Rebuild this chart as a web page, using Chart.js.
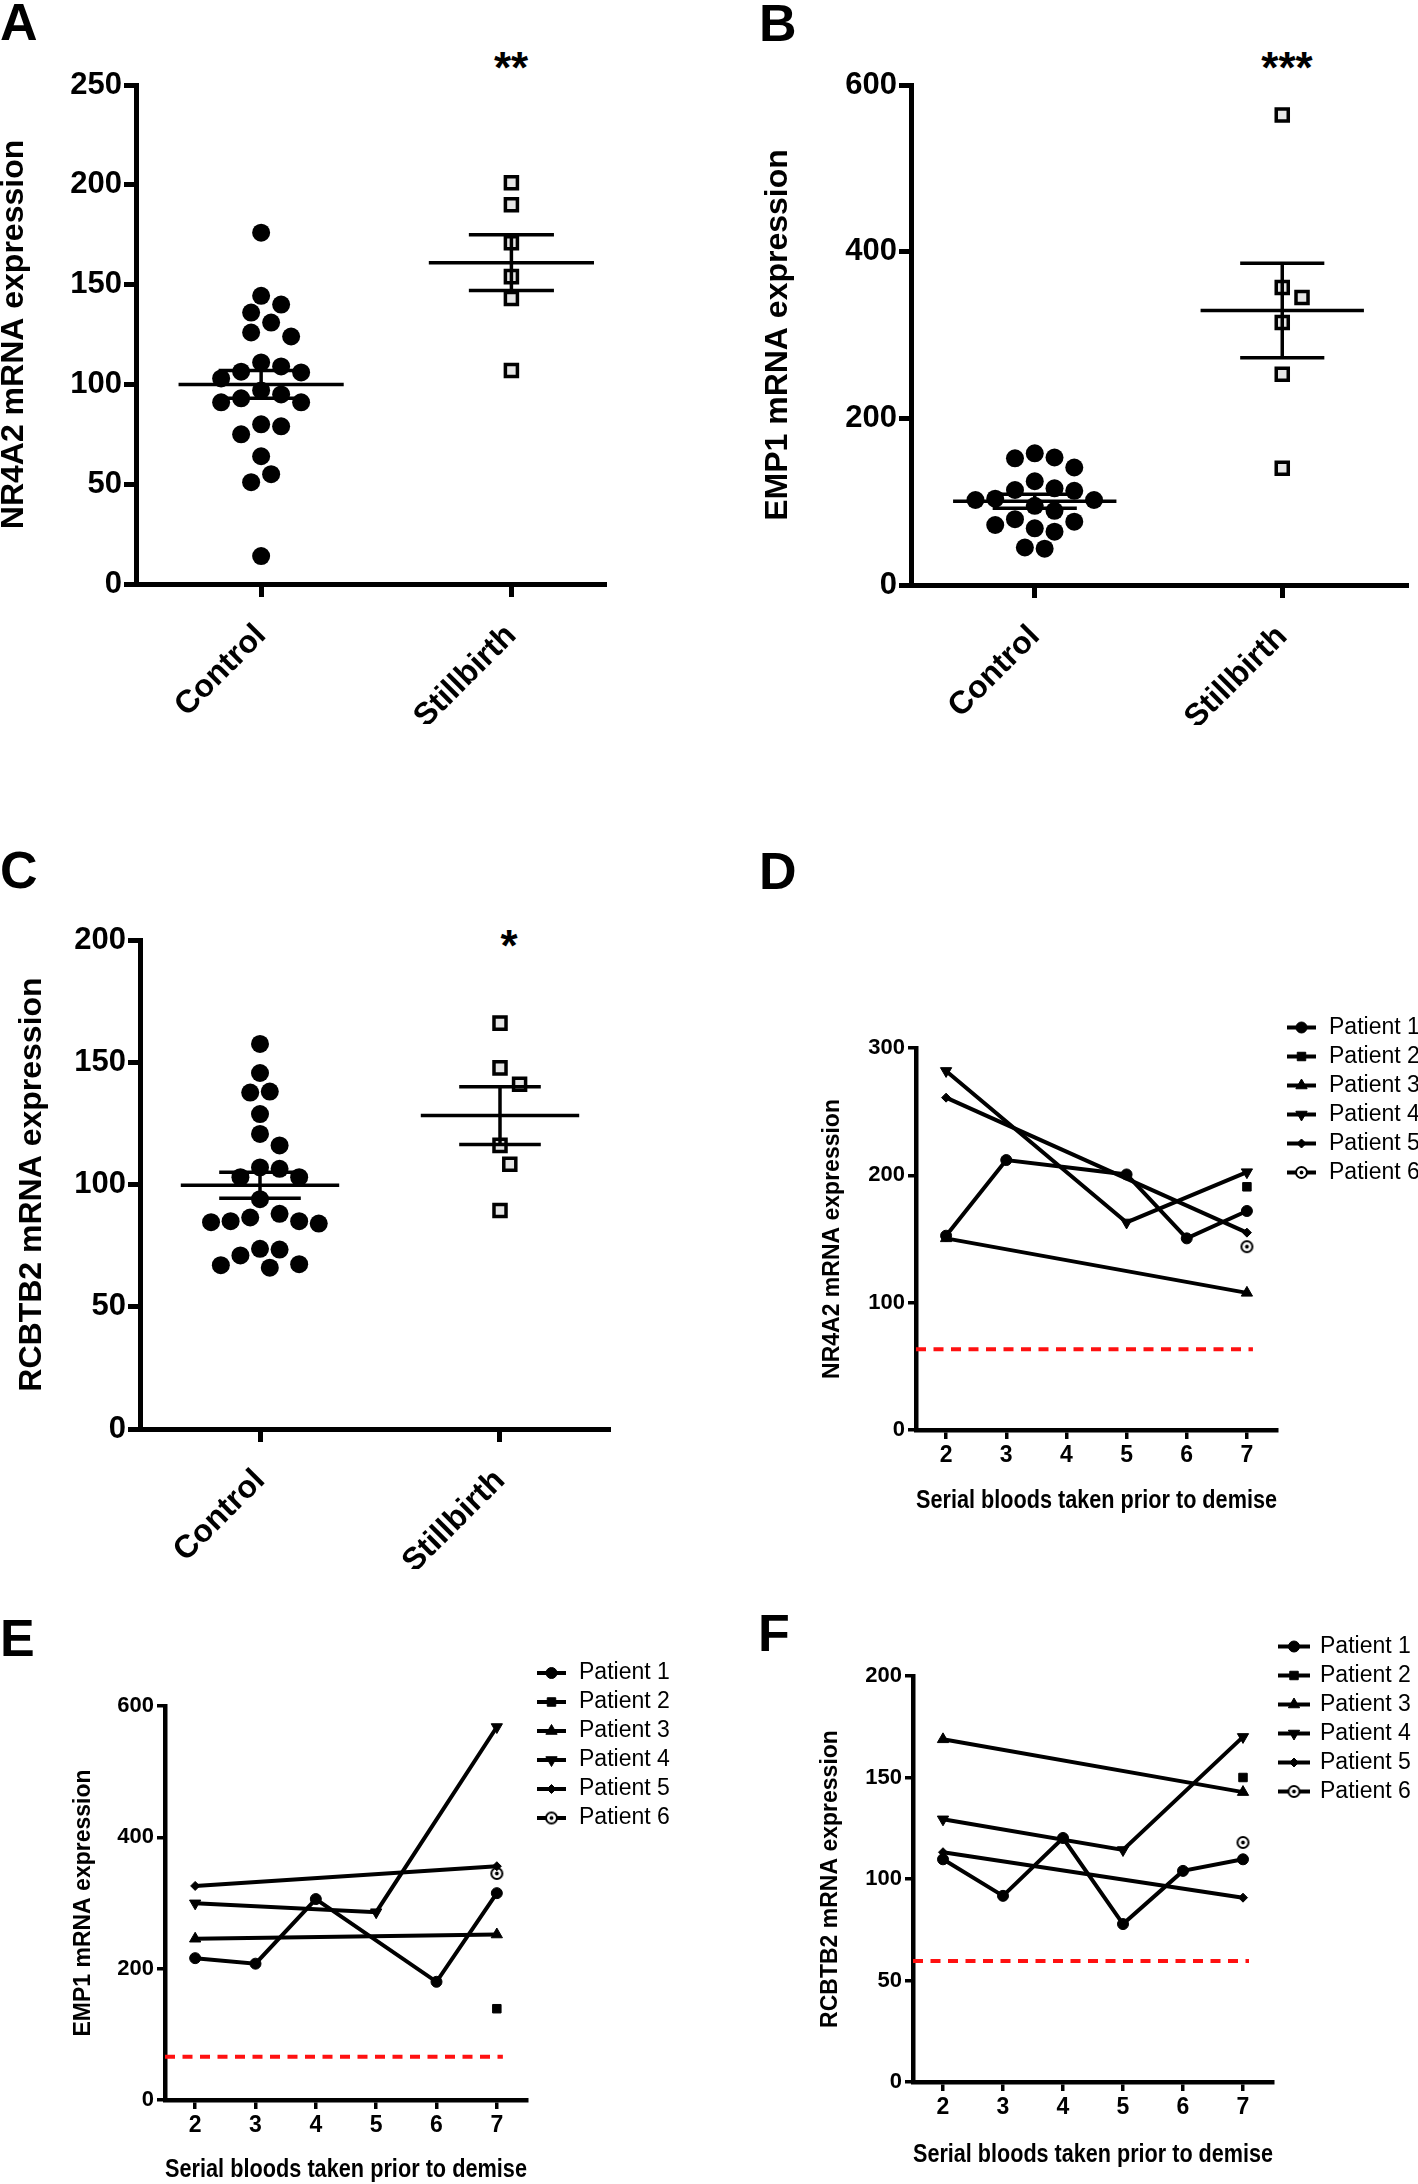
<!DOCTYPE html>
<html>
<head>
<meta charset="utf-8">
<script src="https://cdn.jsdelivr.net/npm/chart.js@4.4.1/dist/chart.umd.min.js"></script>
<style>
  body { margin: 0; background: #fff; width: 1418px; height: 2184px; position: relative; overflow: hidden;
         font-family: 'Liberation Sans', Arial, sans-serif; color: #000; }
  .panel { position: absolute; }
  .tag { position: absolute; font-weight: bold; font-size: 52px; line-height: 1; }
  .star { position: absolute; font-weight: bold; font-size: 44px; line-height: 1; transform: translateX(-50%); }
</style>
</head>
<body>
<div class="tag" style="left:0px;top:-4px">A</div>
<div class="tag" style="left:759px;top:-3px">B</div>
<div class="tag" style="left:0px;top:844px">C</div>
<div class="tag" style="left:759px;top:845px">D</div>
<div class="tag" style="left:0px;top:1612px">E</div>
<div class="tag" style="left:758px;top:1607px">F</div>
<div class="star" style="left:511px;top:46px">**</div>
<div class="star" style="left:1287px;top:46px">***</div>
<div class="star" style="left:509px;top:924px">*</div>
<script>
// scatter panels (A-C)
const groups = ['Control', 'Stillbirth'];

const nr4a2Control = [176, 144.4, 140, 136, 131, 126, 124, 111, 109, 106.4, 106, 103, 97, 95, 93, 91, 91, 80, 79, 75, 64, 55, 51, 14];
const nr4a2Stillbirth = [201, 190, 171, 154, 143, 107];
const nr4a2Mean = [100, 161];
const nr4a2Sem = [7, 14];

const emp1Control = [158, 152, 153, 141, 124.5, 114, 116, 113, 103.6, 102, 102, 95, 89, 79, 72, 68, 76, 64, 43.6, 45];
const emp1Stillbirth = [564, 357, 345, 315, 253, 140];
const emp1Mean = [100.5, 329.5];
const emp1Sem = [8.3, 56.7];

const rcbtb2Control = [157.5, 145.6, 137.6, 138, 128.8, 120.7, 116, 107, 106.4, 103, 103, 94, 88, 85, 84.6, 84, 85, 86.5, 73.4, 73.7, 71, 67.4, 66, 67];
const rcbtb2Stillbirth = [166, 147.7, 141, 116, 108.3, 89.4];
const rcbtb2Mean = [99.7, 128.2];
const rcbtb2Sem = [5.3, 11.8];

// serial bloods panels (D-F)
const bloods = [2, 3, 4, 5, 6, 7];
const patients = ['Patient 1', 'Patient 2', 'Patient 3', 'Patient 4', 'Patient 5', 'Patient 6'];

const nr4a2Serial = [
  [152.6, 212, null, 200.7, 150.5, 172],
  [null, null, null, null, null, 191],
  [150.5, null, null, null, null, 107.7],
  [282, null, null, 163, null, 202.5],
  [261, null, null, null, null, 155],
  [null, null, null, null, null, 144]
];
const nr4a2Cutoff = 63.5;

const emp1Serial = [
  [216, 207.6, 306, null, 180, 315],
  [null, null, null, null, null, 139],
  [245.6, null, null, null, null, 252],
  [299.5, null, null, 286, null, 568],
  [326, null, null, null, null, 356],
  [null, null, null, null, null, 345]
];
const emp1Cutoff = 66;

const rcbtb2Serial = [
  [109.7, 91.7, 120.2, 77.8, 104, 109.7],
  [null, null, null, null, null, 150],
  [168.8, null, null, null, null, 142.8],
  [129.4, null, null, 114.3, null, 170],
  [113.2, null, null, null, null, 90.8],
  [null, null, null, null, null, 118]
];
const rcbtb2Cutoff = 59.6;
const cutoffSpan = [1.5, 7.1];

Chart.defaults.font.family = "'Liberation Sans', Arial, sans-serif";
Chart.defaults.color = '#000';

function mount(lay) {
  const d = document.createElement('div');
  d.className = 'panel';
  d.style.left = lay.box[0] + 'px';
  d.style.top = lay.box[1] + 'px';
  d.style.width = lay.box[2] + 'px';
  d.style.height = lay.box[3] + 'px';
  const c = document.createElement('canvas');
  d.appendChild(c);
  document.body.appendChild(d);
  return c;
}

function frame(lay, halfY, halfX) {
  const [l, t, w, h] = lay.box;
  const [al, at, ar, ab] = lay.area;
  const padL = lay.yTitleX - l - halfY;
  const xH = lay.xTitleY ? lay.xTitleY + halfX - ab : 140;
  return {
    padding: { left: padL, top: at - t, right: l + w - ar, bottom: t + h - ab - xH },
    yW: al - l - padL,
    xH
  };
}

function fixed(prop, v) {
  return s => {
    s[prop] = v;
    s.paddingLeft = s.paddingRight = s.paddingTop = s.paddingBottom = 0;
  };
}

// simple beeswarm: place points from the top down at the nearest free offset
function swarm(values, ppuX, ppuY, gap) {
  const order = values.map((v, i) => i).sort((a, b) => values[b] - values[a]);
  const placed = [];
  const offs = values.map(() => 0);
  const cands = [0];
  for (let k = 1; k <= 14; k++) cands.push(k * gap / 2, -k * gap / 2);
  for (const i of order) {
    const py = values[i] * ppuY;
    for (const dx of cands) {
      if (placed.every(p => (p.x - dx) ** 2 + (p.y - py) ** 2 >= gap * gap * 0.95)) {
        offs[i] = dx / ppuX;
        placed.push({ x: dx, y: py });
        break;
      }
    }
  }
  return offs;
}

function seg(a, b) {
  return {
    data: [{ x: a[0], y: a[1] }, { x: b[0], y: b[1] }],
    showLine: true, borderColor: '#000', borderWidth: 3.5, pointRadius: 0
  };
}

function dotPanel(lay, control, stillbirth, mean, sem, yTitle) {
  const fr = frame(lay, 14.4, 0);
  const ppuX = (lay.area[2] - lay.area[0]) / (lay.xMax - 0.5);
  const ppuY = (lay.area[3] - lay.area[1]) / lay.yMax;
  const offC = swarm(control, ppuX, ppuY, 20);
  const offS = swarm(stillbirth, ppuX, ppuY, 20);

  const datasets = [];
  mean.forEach((m, i) => {
    const c = i + 1, s = sem[i];
    datasets.push(seg([c - 0.33, m], [c + 0.33, m]));
    datasets.push(seg([c - 0.17, m + s], [c + 0.17, m + s]));
    datasets.push(seg([c - 0.17, m - s], [c + 0.17, m - s]));
    datasets.push(seg([c, m - s], [c, m + s]));
  });
  datasets.push({
    data: stillbirth.map((v, i) => ({ x: 2 + offS[i], y: v })),
    pointStyle: 'rect', pointRadius: 8.5, pointBackgroundColor: '#e6e6e6',
    pointBorderColor: '#000', pointBorderWidth: 3.5
  });
  datasets.push({
    data: control.map((v, i) => ({ x: 1 + offC[i], y: v })),
    pointStyle: 'circle', pointRadius: 9, pointBackgroundColor: '#000',
    pointBorderColor: '#000', pointBorderWidth: 0
  });

  new Chart(mount(lay), {
    type: 'scatter',
    data: { datasets },
    options: {
      animation: false,
      responsive: true,
      maintainAspectRatio: false,
      layout: { padding: fr.padding },
      plugins: { legend: { display: false }, tooltip: { enabled: false } },
      scales: {
        x: {
          type: 'linear', min: 0.5, max: lay.xMax,
          afterBuildTicks: s => { s.ticks = groups.map((g, i) => ({ value: i + 1 })); },
          afterFit: fixed('height', fr.xH),
          ticks: {
            callback: v => groups[v - 1], autoSkip: false, minRotation: 45, maxRotation: 45,
            padding: 20, color: '#000', font: { size: 32, weight: 'bold' }
          },
          grid: { drawOnChartArea: false, tickLength: 13, lineWidth: 5, color: '#000' },
          border: { width: 5, color: '#000' }
        },
        y: {
          min: 0, max: lay.yMax,
          afterFit: fixed('width', fr.yW),
          ticks: { stepSize: lay.yStep, padding: 2, color: '#000', font: { size: 31, weight: 'bold' } },
          grid: { drawOnChartArea: false, tickLength: 12, lineWidth: 5, color: '#000' },
          border: { width: 5, color: '#000' },
          title: { display: true, text: yTitle, padding: 0, color: '#000',
                   font: { size: 32, weight: 'bold', lineHeight: 0.9 } }
        }
      }
    }
  });
}

function ringDot(r) {
  const c = document.createElement('canvas');
  const s = Math.ceil(r * 2 + 4);
  c.width = c.height = s;
  const g = c.getContext('2d');
  g.lineWidth = 2;
  g.strokeStyle = '#000';
  g.fillStyle = '#fff';
  g.beginPath(); g.arc(s / 2, s / 2, r, 0, Math.PI * 2); g.fill(); g.stroke();
  g.fillStyle = '#000';
  g.beginPath(); g.arc(s / 2, s / 2, r * 0.35, 0, Math.PI * 2); g.fill();
  return c;
}

const markers = [
  { pointStyle: 'circle', pointRadius: 5.5 },
  { pointStyle: 'rect', pointRadius: 6 },
  { pointStyle: 'triangle', pointRadius: 6.5 },
  { pointStyle: 'triangle', pointRadius: 6.5, pointRotation: 180 },
  { pointStyle: 'rectRot', pointRadius: 4.5 },
  { pointStyle: ringDot(5.5), pointRadius: 6 }
];

const patientLegend = {
  id: 'patientLegend',
  afterDraw(chart, args, opts) {
    if (opts.y === undefined) return;
    const ctx = chart.ctx;
    ctx.save();
    chart.data.datasets.forEach((ds, i) => {
      if (!ds.label) return;
      const y = opts.y + i * opts.gap;
      ctx.strokeStyle = '#000';
      ctx.lineWidth = 4;
      ctx.beginPath(); ctx.moveTo(opts.x0, y); ctx.lineTo(opts.x1, y); ctx.stroke();
      ctx.fillStyle = '#000';
      ctx.lineWidth = 1;
      Chart.helpers.drawPoint(ctx, {
        pointStyle: ds.pointStyle, rotation: ds.pointRotation || 0,
        radius: ds.pointRadius, borderWidth: 1
      }, (opts.x0 + opts.x1) / 2, y);
      ctx.fillStyle = '#000';
      ctx.font = '23px "Liberation Sans", Arial, sans-serif';
      ctx.textBaseline = 'middle';
      ctx.textAlign = 'left';
      ctx.fillText(ds.label, opts.textX, y);
    });
    ctx.restore();
  }
};

function linePanel(lay, serial, cutoff, yTitle) {
  const fr = frame(lay, 11.5, 12.5);
  const datasets = serial.map((row, p) => Object.assign({
    label: patients[p],
    data: row.map((v, i) => ({ x: bloods[i], y: v })).filter(d => d.y !== null),
    showLine: true, borderColor: '#000', borderWidth: 4,
    pointBackgroundColor: '#000', pointBorderColor: '#000', pointBorderWidth: 1
  }, markers[p]));
  datasets.push({
    data: cutoffSpan.map(x => ({ x, y: cutoff })),
    showLine: true, borderColor: '#ff1111', borderWidth: 4, borderDash: [10, 7.5], pointRadius: 0
  });

  new Chart(mount(lay), {
    type: 'scatter',
    data: { datasets },
    plugins: [patientLegend],
    options: {
      animation: false,
      responsive: true,
      maintainAspectRatio: false,
      layout: { padding: fr.padding },
      plugins: { legend: { display: false }, tooltip: { enabled: false }, patientLegend: lay.legend },
      scales: {
        x: {
          type: 'linear', min: 1.5, max: 7.5,
          afterBuildTicks: s => { s.ticks = bloods.map(v => ({ value: v })); },
          afterFit: fixed('height', fr.xH),
          ticks: { autoSkip: false, maxRotation: 0, padding: 3, color: '#000', font: { size: 23, weight: 'bold' } },
          grid: { drawOnChartArea: false, tickLength: 9, lineWidth: 3.5, color: '#000' },
          border: { width: 4.5, color: '#000' },
          title: { display: true, text: 'Serial bloods taken prior to demise', padding: 0, color: '#000',
                   font: { size: 25, weight: 'bold', lineHeight: 1 } }
        },
        y: {
          min: 0, max: lay.yMax,
          afterFit: fixed('width', fr.yW),
          ticks: { stepSize: lay.yStep, padding: 3, color: '#000', font: { size: 22, weight: 'bold' } },
          grid: { drawOnChartArea: false, tickLength: 8, lineWidth: 3.5, color: '#000' },
          border: { width: 4.5, color: '#000' },
          title: { display: true, text: yTitle, padding: 0, color: '#000',
                   font: { size: 23, weight: 'bold', lineHeight: 1 } }
        }
      }
    }
  });
}

dotPanel({ box: [0, 0, 620, 745], area: [136, 85, 604, 584], yTitleX: 14, xMax: 2.37, yMax: 250, yStep: 50 },
  nr4a2Control, nr4a2Stillbirth, nr4a2Mean, nr4a2Sem, 'NR4A2 mRNA expression');
dotPanel({ box: [750, 0, 668, 745], area: [911, 85, 1412, 585], yTitleX: 778, xMax: 2.5, yMax: 600, yStep: 200 },
  emp1Control, emp1Stillbirth, emp1Mean, emp1Sem, 'EMP1 mRNA expression');
dotPanel({ box: [0, 835, 620, 745], area: [140, 940, 618, 1429], yTitleX: 32, xMax: 2.45, yMax: 200, yStep: 50 },
  rcbtb2Control, rcbtb2Stillbirth, rcbtb2Mean, rcbtb2Sem, 'RCBTB2 mRNA expression');

linePanel({ box: [750, 835, 668, 690], area: [916, 1048, 1277, 1430], yTitleX: 833, xTitleY: 1501, yMax: 300, yStep: 100,
            legend: { x0: 537, x1: 566, textX: 579, y: 192.5, gap: 29 } },
  nr4a2Serial, nr4a2Cutoff, 'NR4A2 mRNA expression');
linePanel({ box: [0, 1600, 700, 584], area: [165, 1706, 527, 2100], yTitleX: 84, xTitleY: 2170, yMax: 600, yStep: 200,
            legend: { x0: 537, x1: 566, textX: 579, y: 73, gap: 29 } },
  emp1Serial, emp1Cutoff, 'EMP1 mRNA expression');
linePanel({ box: [750, 1600, 668, 584], area: [913, 1676, 1273, 2082], yTitleX: 831, xTitleY: 2155, yMax: 200, yStep: 50,
            legend: { x0: 528, x1: 560, textX: 570, y: 46.5, gap: 29 } },
  rcbtb2Serial, rcbtb2Cutoff, 'RCBTB2 mRNA expression');
</script>
</body>
</html>
